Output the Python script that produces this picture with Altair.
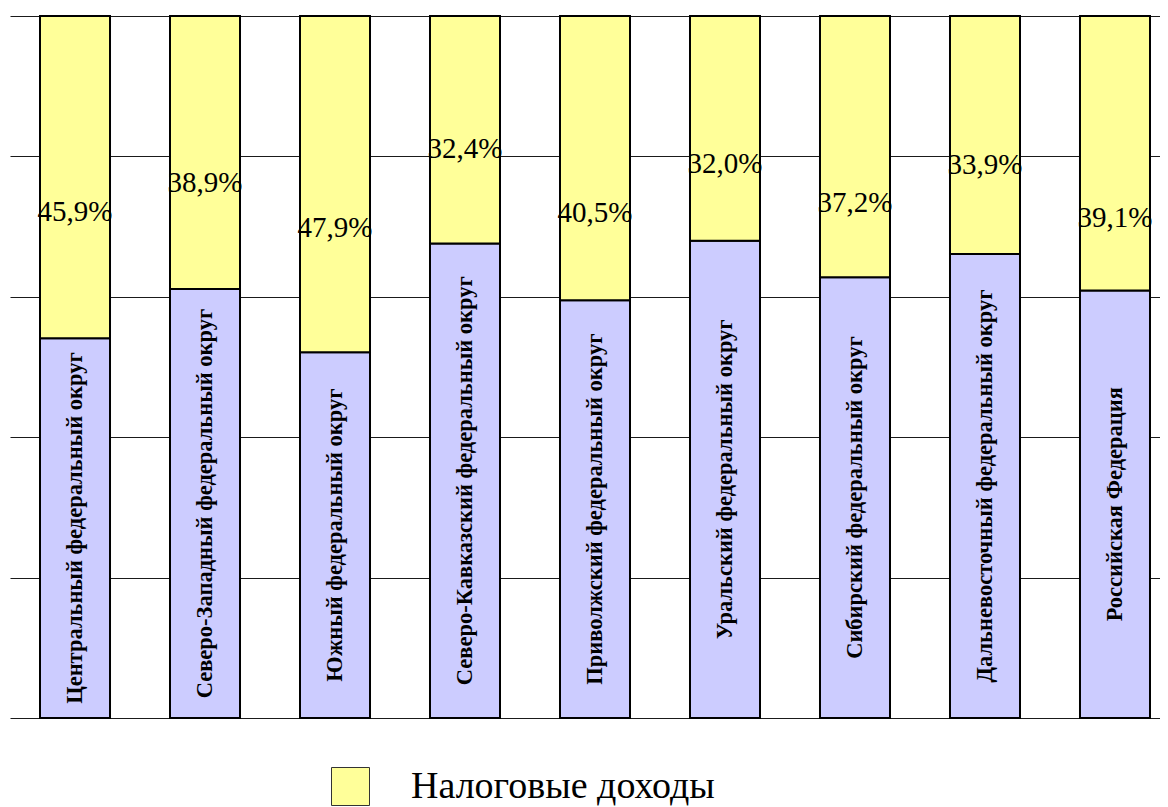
import altair as alt
import pandas as pd

districts = [
    "Центральный федеральный округ",
    "Северо-Западный федеральный округ",
    "Южный федеральный округ",
    "Северо-Кавказский федеральный округ",
    "Приволжский федеральный округ",
    "Уральский федеральный округ",
    "Сибирский федеральный округ",
    "Дальневосточный федеральный округ",
    "Российская Федерация",
]
tax_share = [45.9, 38.9, 47.9, 32.4, 40.5, 32.0, 37.2, 33.9, 39.1]
# value-axis level (in %) at which each share label sits
tax_label_level = [72.1, 76.2, 69.8, 81.1, 71.9, 78.9, 73.4, 78.8, 71.2]
series = ["Налоговые доходы", "Неналоговые доходы"]
series_colors = ["#FFFF99", "#CCCCFF"]
grid_values = [0, 20, 40, 60, 80, 100]

rows = []
for d, t in zip(districts, tax_share):
    rows.append({"district": d, "series": series[1], "start": 0.0, "end": 100.0 - t})
    rows.append({"district": d, "series": series[0], "start": 100.0 - t, "end": 100.0})
bars_df = pd.DataFrame(rows)

labels_df = pd.DataFrame({
    "district": districts,
    "tax": tax_share,
    "level": tax_label_level,
    "pct": [f"{t:.1f}".replace(".", ",") + "%" for t in tax_share],
    "mid": [(100.0 - t) / 2 for t in tax_share],
})

xscale = alt.Scale(paddingInner=0.4615, paddingOuter=0.2308, range=[0, 1170])
X = alt.X("district:N", sort=districts, axis=None, scale=xscale)
yscale = alt.Scale(domain=[0, 100], nice=False, zero=True)

bars = alt.Chart(bars_df).mark_bar(stroke="black", strokeWidth=2).encode(
    x=X,
    y=alt.Y(
        "start:Q",
        scale=yscale,
        axis=alt.Axis(
            values=grid_values, grid=True, labels=False, ticks=False,
            domain=False, title=None, gridColor="#1a1a1a", gridWidth=1,
            gridOpacity=1,
        ),
    ),
    y2="end:Q",
    color=alt.Color(
        "series:N",
        scale=alt.Scale(domain=series, range=series_colors),
        legend=alt.Legend(
            orient="none", legendX=321, legendY=751, title=None,
            values=[series[0]], symbolType="square", symbolSize=1444,
            symbolStrokeColor="#333333", symbolStrokeWidth=1,
            symbolOpacity=1, labelFont="Liberation Serif",
            labelFontSize=38, labelOffset=41, labelColor="black",
            padding=0, labelLimit=600,
        ),
    ),
)

pct_text = alt.Chart(labels_df).mark_text(
    font="Liberation Serif", fontSize=29, baseline="middle", align="center",
    color="black",
).encode(
    x=X,
    y=alt.Y("level:Q", scale=yscale),
    text="pct:N",
)

cat_text = alt.Chart(labels_df).mark_text(
    font="Liberation Serif", fontSize=22.5, fontWeight="bold", angle=270,
    baseline="middle", align="center", color="black",
).encode(
    x=X,
    y=alt.Y("mid:Q", scale=yscale),
    text="district:N",
)

chart = alt.layer(bars, pct_text, cat_text).properties(
    width=1150,
    height=702,
    autosize=alt.AutoSizeParams(type="none"),
    padding={"left": 2, "top": 8, "right": 0, "bottom": 89},
).configure_view(stroke=None)

chart.save("out.html", embed_options={"renderer": "svg", "actions": False})
